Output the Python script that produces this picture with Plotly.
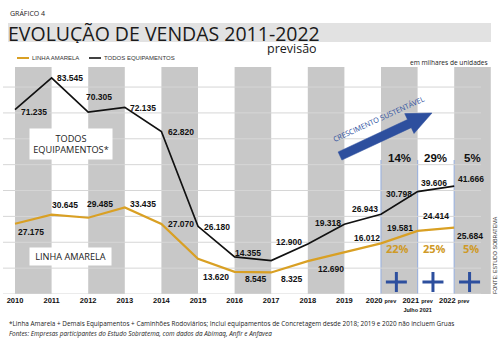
import numpy as np
import plotly.graph_objects as go

# ---------------- data ----------------
years = ["2010", "2011", "2012", "2013", "2014", "2015", "2016",
         "2017", "2018", "2019", "2020", "2021", "2022"]
tick_labels = ["2010", "2011", "2012", "2013", "2014", "2015", "2016",
               "2017", "2018", "2019",
               "2020 <span style='font-size:5.5px'>prev</span>",
               "2021 <span style='font-size:5.5px'>prev</span><br><span style='font-size:5.5px'>Julho 2021</span>",
               "2022 <span style='font-size:5.5px'>prev</span>"]
linha_amarela = [27175, 30645, 29485, 33435, 27070, 13620, 8545, 8325,
                 12690, 16012, 19581, 24414, 25684]
todos_equip = [71235, 83545, 70305, 72135, 62820, 26180, 14355, 12900,
               19318, 26943, 30798, 39606, 41666]
growth_todos = ["14%", "29%", "5%"]
growth_linha = ["22%", "25%", "5%"]

# ---------------- styles / layout helpers ----------------
W, H = 500, 344
PT, PB = 67, 294          # plot area top / bottom in px
X_ORIGIN, X_STEP = 15, 36.6
YMAX = 87750
ORANGE = "#d9a024"
BLACK = "#111111"
BLUE = "#2d4f9e"
BAND = "#c8c8c8"
GRID = "#d6d6d6"

def xd(px):
    return (px - X_ORIGIN) / X_STEP

def yd(py):
    return (PB - py) / (PB - PT) * YMAX

def xp(px):
    return px / W

def yp(py):
    return (PB - py) / (PB - PT)

black_off = [(19, -2), (18, 0), (11, 15), (18, -1), (20, -1), (19, -1), (13, 4),
             (18, 19), (20, 21), (21, 15), (18, 20), (16, 9), (17, 7)]
orange_off = [(16, -8), (13, 10), (12, 14), (18, 4), (20, 0), (18, -18), (21, -7),
              (21, -7), (23, -8), (23, 15), (19, 15), (18, 15), (16, -8)]

def fmt(v):
    return f"{v:,}".replace(",", ".")

n = len(years)
xs = list(range(n))

fig = go.Figure()
fig.add_trace(go.Scatter(x=xs, y=linha_amarela, mode="lines",
                         line=dict(color=ORANGE, width=2.2), name="LINHA AMARELA",
                         showlegend=False, hoverinfo="skip"))
fig.add_trace(go.Scatter(x=xs, y=todos_equip, mode="lines",
                         line=dict(color=BLACK, width=1.7), name="TODOS EQUIPAMENTOS",
                         showlegend=False, hoverinfo="skip"))

shapes = []
# gray bands
for k in range(0, n, 2):
    shapes.append(dict(type="rect", xref="x", yref="paper", x0=k, x1=k + 1,
                       y0=0, y1=1, fillcolor=BAND, line=dict(width=0), layer="below"))
# gridlines
for v in range(0, 90000, 10000):
    shapes.append(dict(type="line", xref="x", yref="y", x0=xd(3), x1=xd(481),
                       y0=v, y1=v, line=dict(color=GRID, width=1), layer="below"))
# light blue separators in forecast area
for k in (10, 11, 12):
    shapes.append(dict(type="line", xref="x", yref="paper", x0=k, x1=k,
                       y0=0, y1=yp(160), line=dict(color="#9fb4dd", width=1.2),
                       layer="below"))
# plus signs
for k in (10, 11, 12):
    cx = k + 0.5 - 0.08
    cy = 282
    shapes.append(dict(type="line", xref="x", yref="paper",
                       x0=cx - 10.5 / X_STEP, x1=cx + 10.5 / X_STEP,
                       y0=yp(cy), y1=yp(cy), line=dict(color=BLUE, width=3)))
    shapes.append(dict(type="line", xref="x", yref="paper", x0=cx, x1=cx,
                       y0=yp(cy - 10), y1=yp(cy + 10), line=dict(color=BLUE, width=3)))
# title background bar
shapes.append(dict(type="rect", xref="paper", yref="paper", x0=xp(8), x1=xp(491),
                   y0=yp(42), y1=yp(23), fillcolor="#e2e2e2", line=dict(width=0)))
# legend samples
shapes.append(dict(type="line", xref="paper", yref="paper", x0=xp(17), x1=xp(29),
                   y0=yp(58), y1=yp(58), line=dict(color=ORANGE, width=2)))
shapes.append(dict(type="line", xref="paper", yref="paper", x0=xp(89), x1=xp(101),
                   y0=yp(58), y1=yp(58), line=dict(color=BLACK, width=1.6)))

# growth arrow polygon
tail = np.array([340.0, 156.0])
tip = np.array([432.0, 113.0])
d = tip - tail
u = d / np.linalg.norm(d)
nrm = np.array([-u[1], u[0]])
hb = tip - u * 25
pts = [tail + nrm * 4.5, hb + nrm * 4.5, hb + nrm * 11, tip,
       hb - nrm * 11, hb - nrm * 4.5, tail - nrm * 4.5]
path = "M " + " L ".join(f"{xp(p[0]):.5f},{yp(p[1]):.5f}" for p in pts) + " Z"
shapes.append(dict(type="path", xref="paper", yref="paper", path=path,
                   fillcolor=BLUE, line=dict(color=BLUE, width=0.5)))

ann = []
VAL_FONT = dict(family="Liberation Sans", size=8.5, color="#111", weight="bold")
for i in range(n):
    dx, dy = black_off[i]
    ann.append(dict(x=i, y=todos_equip[i], xref="x", yref="y", text=fmt(todos_equip[i]),
                    showarrow=False, xshift=dx, yshift=dy, font=VAL_FONT))
    dx, dy = orange_off[i]
    ann.append(dict(x=i, y=linha_amarela[i], xref="x", yref="y", text=fmt(linha_amarela[i]),
                    showarrow=False, xshift=dx, yshift=dy, font=VAL_FONT))

for j, k in enumerate((10, 11, 12)):
    ann.append(dict(x=k + 0.5, y=yp(158), xref="x", yref="paper", text=growth_todos[j],
                    showarrow=False,
                    font=dict(family="Liberation Sans", size=11.5, color="#111", weight="bold")))
    ann.append(dict(x=k + 0.5 - 0.05, y=yp(257.5), xref="x", yref="paper", text=growth_linha[j],
                    showarrow=False,
                    font=dict(family="Open Sans", size=11, color="#cf9a26", weight="bold")))


def pann(text, px, py, size, family="Open Sans", color="#222", xanchor="center",
         weight="normal", style="normal", **kw):
    d = dict(x=xp(px), y=yp(py), xref="paper", yref="paper", text=text, showarrow=False,
             xanchor=xanchor, yanchor="middle",
             font=dict(family=family, size=size, color=color, weight=weight, style=style))
    d.update(kw)
    ann.append(d)

pann("GRÁFICO 4", 8, 14, 7, xanchor="left", color="#222")
pann("EVOLUÇÃO DE VENDAS 2011-2022", 6, 32.5, 19.5, xanchor="left", color="#1a1a1a",
     height=20)
pann("previsão", 292, 48.5, 12.5, color="#1a1a1a", height=13)
pann("LINHA AMARELA", 30, 58, 6, family="Liberation Sans", xanchor="left", color="#333")
pann("TODOS EQUIPAMENTOS", 102, 58, 6, family="Liberation Sans", xanchor="left", color="#333")
pann("em milhares de unidades", 490, 62, 6.6, xanchor="right", color="#222")
pann("TODOS<br>EQUIPAMENTOS*", 71, 143.5, 9.2, color="#222", bgcolor="white",
     width=80, height=28)
pann("LINHA AMARELA", 70, 256.5, 9.2, color="#222", bgcolor="white", width=79, height=15)
pann("CRESCIMENTO SUSTENTÁVEL", 378, 119, 7.3, color=BLUE, textangle=-24.5)
pann("FONTE: ESTUDO SOBRATEMA", 495, 255, 5.3, family="Liberation Sans",
     color="#333", textangle=-90)
pann("*Linha Amarela + Demais Equipamentos + Caminhões Rodoviários; Inclui equipamentos de Concretagem desde 2018; 2019 e 2020 não incluem Gruas",
     7, 323, 6.4, xanchor="left", color="#222")
pann("Fontes: Empresas participantes do Estudo Sobratema, com dados da Abimaq, Anfir e Anfavea",
     7, 333, 6.4, xanchor="left", color="#222", style="italic")

fig.update_layout(
    width=W, height=H,
    margin=dict(l=0, r=0, t=PT, b=H - PB, pad=0),
    paper_bgcolor="white", plot_bgcolor="white",
    shapes=shapes, annotations=ann, showlegend=False,
    xaxis=dict(range=[xd(0), xd(W)], tickvals=xs, ticktext=tick_labels,
               showgrid=False, zeroline=False, showline=False, ticks="",
               tickfont=dict(family="Liberation Sans", size=7.5, color="#111", weight="bold"),
               fixedrange=True),
    yaxis=dict(range=[0, YMAX], showgrid=False, zeroline=False, showticklabels=False,
               showline=False, fixedrange=True),
)

fig.write_html("out.html")
